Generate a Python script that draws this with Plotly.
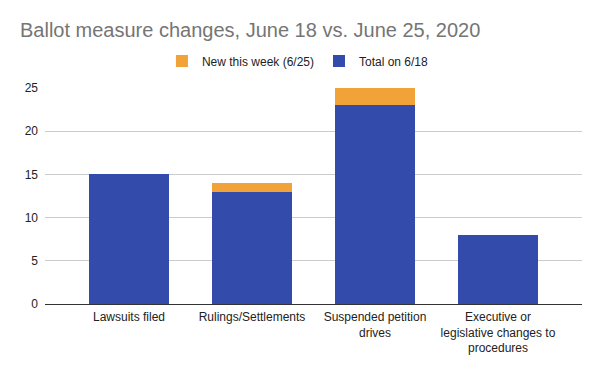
import plotly.graph_objects as go

categories = ["Lawsuits filed", "Rulings/Settlements", "Suspended petition<br>drives",
              "Executive or<br>legislative changes to<br>procedures"]
total_0618 = [15, 13, 23, 8]
new_0625 = [0, 1, 2, 0]
series_names = ["Total on 6/18", "New this week (6/25)"]
y_ticks = [0, 5, 10, 15, 20, 25]

BLUE = "#334BAB"
ORANGE = "#F1A33A"

# The page body has an 8px margin, so the figure is 8px smaller and shifted.
W, H = 592, 363
ML, MR, MT, MB = 37, 18, 80, 67
PW = W - ML - MR
PH = H - MT - MB

fig = go.Figure()
fig.add_trace(go.Bar(x=list(range(len(categories))), y=total_0618, name=series_names[0],
                     marker=dict(color=BLUE, line=dict(width=0)), width=0.65))
fig.add_trace(go.Bar(x=list(range(len(categories))), y=new_0625, name=series_names[1],
                     marker=dict(color=ORANGE, line=dict(width=0)), width=0.65))

fig.update_layout(
    width=W, height=H,
    barmode="stack",
    plot_bgcolor="white", paper_bgcolor="white",
    margin=dict(l=ML, r=MR, t=MT, b=MB, autoexpand=False),
    font=dict(family="Arial, Liberation Sans, sans-serif", size=12, color="#222222"),
    title=dict(text="Ballot measure changes, June 18 vs. June 25, 2020",
               font=dict(family="Arial, Liberation Sans, sans-serif", size=20, color="#757575"),
               x=12 / W, xref="container", xanchor="left",
               y=1 - 21.5 / H, yref="container", yanchor="middle"),
    legend=dict(orientation="h", traceorder="reversed",
                x=0.404 + 36 / PW, xanchor="center",
                y=1 + (MT - 53) / PH, yanchor="middle",
                font=dict(size=12, color="#222222"), itemwidth=30,
                bgcolor="rgba(0,0,0,0)"),
    showlegend=True,
)
fig.update_xaxes(tickmode="array", tickvals=list(range(len(categories))), ticktext=categories,
                 range=[-0.683, 3.683], showgrid=False, showline=False, ticks="",
                 ticklabelstandoff=4,
                 tickfont=dict(size=12, color="#222222"))
fig.update_yaxes(range=[0, 25], tickvals=y_ticks, showgrid=True, gridcolor="#cccccc",
                 gridwidth=1, zeroline=True, zerolinecolor="#333333", zerolinewidth=1,
                 showline=False, ticks="", ticklabelstandoff=6,
                 tickfont=dict(size=12, color="#222222"))

fig.write_html("out.html")
